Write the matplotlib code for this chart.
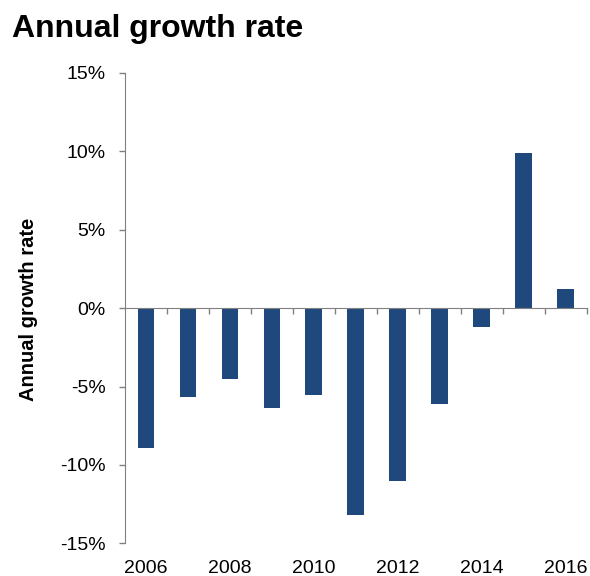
import matplotlib
matplotlib.use("Agg")
import matplotlib.pyplot as plt
import matplotlib.transforms as mtransforms
from matplotlib.ticker import FuncFormatter

plt.rcParams["font.family"] = ["Liberation Sans", "DejaVu Sans"]

years = [2006, 2007, 2008, 2009, 2010, 2011, 2012, 2013, 2014, 2015, 2016]
growth = [-8.9, -5.7, -4.5, -6.4, -5.55, -13.2, -11.0, -6.1, -1.2, 9.9, 1.2]
labelled_years = [2006, 2008, 2010, 2012, 2014, 2016]

bar_color = "#1F497D"
axis_gray = "#808080"

fig = plt.figure(figsize=(5.9, 5.76), dpi=100)
ax = fig.add_axes([0.2119, 0.0568, 0.9944 - 0.2119, 0.8733 - 0.0568])

x = list(range(len(years)))
ax.bar(x, growth, width=0.4, color=bar_color, zorder=2)

ax.set_xlim(-0.5, len(years) - 0.5)
ax.set_ylim(-15, 15)
ax.set_yticks([-15, -10, -5, 0, 5, 10, 15])
ax.yaxis.set_major_formatter(FuncFormatter(lambda v, _: f"{v:.0f}%"))
ax.tick_params(axis="y", direction="out", length=4.5, width=1, color=axis_gray,
               labelsize=14, pad=9.5)

# category axis runs along zero, ticks sit between the bars
ax.spines["bottom"].set_position(("data", 0))
ax.spines["bottom"].set_color(axis_gray)
ax.spines["left"].set_color(axis_gray)
ax.spines["top"].set_visible(False)
ax.spines["right"].set_visible(False)
ax.set_xticks([i - 0.5 for i in range(1, len(years) + 1)])
ax.set_xticklabels([])
ax.tick_params(axis="x", direction="out", length=4.5, width=1, color=axis_gray)

trans = mtransforms.blended_transform_factory(ax.transData, ax.transAxes)
for yr in labelled_years:
    ax.text(years.index(yr), -0.063, str(yr), transform=trans, ha="center",
            va="baseline", fontsize=14)

fig.text(29 / 590, 1 - 309 / 576, "Annual growth rate", rotation=90,
         fontsize=14.5, fontweight="bold", ha="center", va="center")
fig.text(0.02, 0.9358, "Annual growth rate", fontsize=23, fontweight="bold",
         ha="left", va="baseline")

fig.savefig("out.png", dpi=100)
